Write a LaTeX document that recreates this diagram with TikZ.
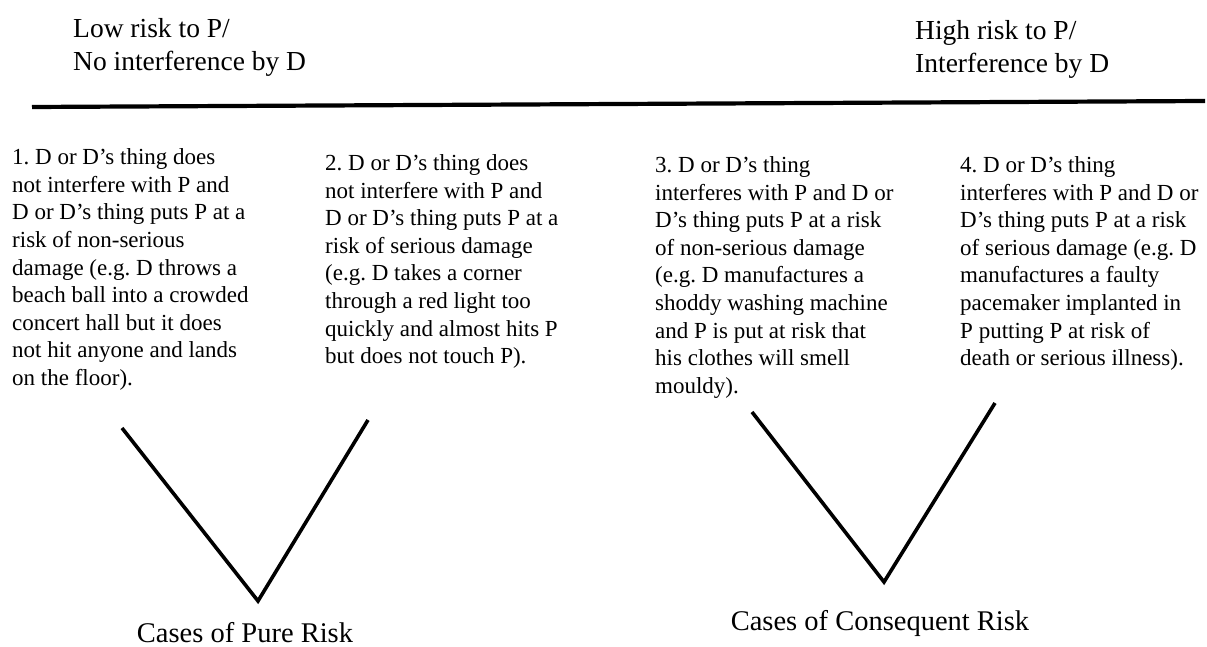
\documentclass[tikz,border=0pt]{standalone}
\usepackage{fontspec}
\setmainfont{Liberation Serif}
\frenchspacing
\begin{document}
\begin{tikzpicture}[x=1pt,y=-1pt,
  body/.style={anchor=north west,inner sep=0pt,align=left,font=\fontsize{23}{27.6}\selectfont\frenchspacing},
  head/.style={anchor=north west,inner sep=0pt,align=left,font=\fontsize{27.5}{33}\selectfont},
  foot/.style={anchor=base,inner sep=0pt,font=\fontsize{28.5}{32}\selectfont},
  rule/.style={line width=4.2pt},
  vee/.style={line width=3.6pt,line join=miter}]
\useasboundingbox (0,0) rectangle (1207,647);
\node[head] (low) at (73,18.2) {Low risk to P/\\No interference by D};
\node[head] (high) at (915,20.2) {High risk to P/\\Interference by D};
\coordinate (la) at (32,107);
\coordinate (lb) at (1205,101);
\draw[rule] (la) -- (lb);
\node[body] (c1) at (12,148.5) {1. D or D’s thing does\\not interfere with P and\\D or D’s thing puts P at a\\risk of non-serious\\damage (e.g. D throws a\\beach ball into a crowded\\concert hall but it does\\not hit anyone and lands\\on the floor).};
\node[body] (c2) at (325,154.3) {2. D or D’s thing does\\not interfere with P and\\D or D’s thing puts P at a\\risk of serious damage\\(e.g. D takes a corner\\through a red light too\\quickly and almost hits P\\but does not touch P).};
\node[body] (c3) at (655,156.3) {3. D or D’s thing\\interferes with P and D or\\D’s thing puts P at a risk\\of non-serious damage\\(e.g. D manufactures a\\shoddy washing machine\\and P is put at risk that\\his clothes will smell\\mouldy).};
\node[body] (c4) at (960,156.3) {4. D or D’s thing\\interferes with P and D or\\D’s thing puts P at a risk\\of serious damage (e.g. D\\manufactures a faulty\\pacemaker implanted in\\P putting P at risk of\\death or serious illness).};
\coordinate (v1a) at (122,428);
\coordinate (v1b) at (258,601);
\coordinate (v1c) at (368,420);
\draw[vee] (v1a) -- (v1b) -- (v1c);
\coordinate (v2a) at (752,412);
\coordinate (v2b) at (884,582);
\coordinate (v2c) at (995,403);
\draw[vee] (v2a) -- (v2b) -- (v2c);
\node[foot] (pure) at (245,642) {Cases of Pure Risk};
\node[foot] (cons) at (880,630) {Cases of Consequent Risk};
\end{tikzpicture}
\end{document}
